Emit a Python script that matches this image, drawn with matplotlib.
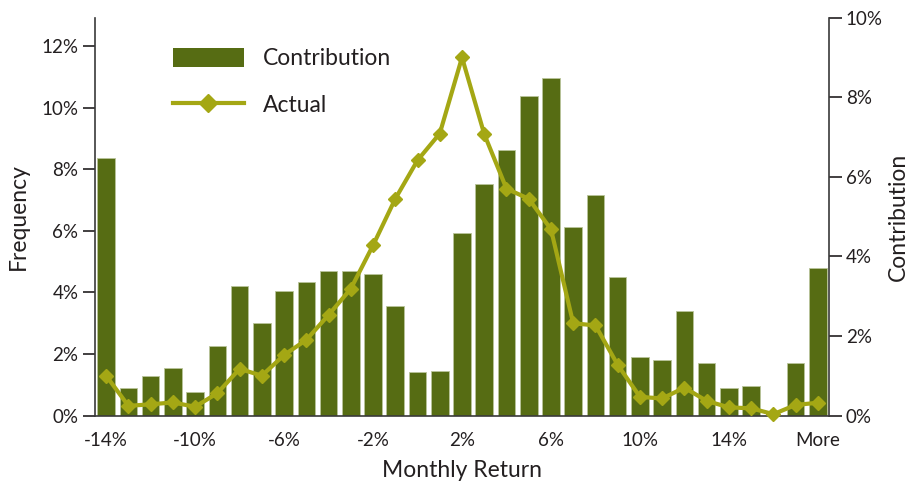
import matplotlib.pyplot as plt
from matplotlib.patches import Patch
from matplotlib.lines import Line2D

# données
categories = [f"{v}%" for v in range(-14, 18)] + ["More"]
contribution = [6.47, 0.70, 1.01, 1.20, 0.59, 1.74, 3.25, 2.33, 3.13, 3.36, 3.63,
                3.63, 3.55, 2.75, 1.09, 1.13, 4.59, 5.83, 6.67, 8.02, 8.49, 4.74,
                5.55, 3.48, 1.47, 1.40, 2.62, 1.32, 0.70, 0.75, 0.0, 1.32, 3.71]
actual = [1.30, 0.32, 0.37, 0.43, 0.29, 0.73, 1.52, 1.30, 1.97, 2.46, 3.27,
          4.12, 5.53, 7.04, 8.29, 9.16, 11.63, 9.14, 7.37, 7.04, 6.05, 3.00,
          2.93, 1.65, 0.61, 0.56, 0.91, 0.48, 0.27, 0.24, 0.05, 0.35, 0.42]
left_ticks = [0, 2, 4, 6, 8, 10, 12]
right_ticks = [0, 2, 4, 6, 8, 10]

bar_color = '#566c13'
line_color = '#a4a714'
text_color = '#231f20'

plt.rcParams['font.family'] = ['Lato', 'DejaVu Sans']
plt.rcParams['text.color'] = text_color
plt.rcParams['axes.labelcolor'] = text_color
plt.rcParams['xtick.color'] = text_color
plt.rcParams['ytick.color'] = text_color

fig = plt.figure(figsize=(9.1, 4.87), dpi=100)
ax = fig.add_axes([0.1044, 0.1464, 0.8066, 0.8173])
ax2 = ax.twinx()

x = list(range(len(categories)))

# barres sur l'axe de droite (Contribution)
ax2.bar(x, contribution, width=0.79, color=bar_color, edgecolor='#b9c49a', linewidth=0.6)
ax2.set_ylim(0, 10)
ax2.set_yticks(right_ticks)
ax2.set_yticklabels([f"{t}%" for t in right_ticks])
ax2.set_ylabel("Contribution", fontsize=16.5, labelpad=4)

# courbe sur l'axe de gauche (Frequency), au-dessus des barres
ax.plot(x, actual, color=line_color, linewidth=3, marker='D', markersize=7,
        markeredgewidth=1, markeredgecolor=line_color, clip_on=False, zorder=5)
ax.set_zorder(ax2.get_zorder() + 1)
ax.patch.set_visible(False)
ax.set_ylim(0, 12.92)
ax.set_yticks(left_ticks)
ax.set_yticklabels([f"{t}%" for t in left_ticks])
ax.set_ylabel("Frequency", fontsize=16.5, labelpad=9)

ax.set_xlim(-0.5, len(categories) - 0.5)
ax.set_xticks(x[::4])
ax.set_xticklabels(categories[::4])
ax.set_xlabel("Monthly Return", fontsize=16.5, labelpad=8)

for a in (ax, ax2):
    a.spines['top'].set_visible(False)
    for s in a.spines.values():
        s.set_color('#3a3a3a')
        s.set_linewidth(1.2)
ax.spines['right'].set_visible(False)
ax2.spines['left'].set_visible(False)
ax2.spines['bottom'].set_visible(False)

ax.tick_params(axis='y', direction='out', length=9, width=1.2, labelsize=13.5, pad=3)
ax2.tick_params(axis='y', direction='out', length=9, width=1.2, labelsize=13.5, pad=3)
ax.tick_params(axis='x', length=0, labelsize=13.5, pad=12)

handles = [Patch(facecolor=bar_color, edgecolor='none'),
           Line2D([0], [0], color=line_color, linewidth=3, marker='D', markersize=9)]
ax.legend(handles, ["Contribution", "Actual"], loc='upper left',
          bbox_to_anchor=(0.106, 0.925), frameon=False, fontsize=16.5,
          handlelength=3.1, handleheight=0.96, handletextpad=0.85,
          labelspacing=1.1, borderpad=0, borderaxespad=0)

plt.savefig("out.png", dpi=100)
plt.close()
